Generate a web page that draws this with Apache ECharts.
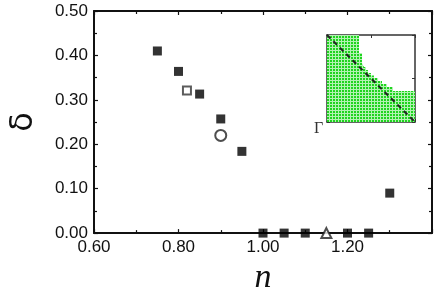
<!DOCTYPE html>
<html><head><meta charset="utf-8">
<script src="https://cdn.jsdelivr.net/npm/echarts@6/dist/echarts.min.js"></script>
<style>html,body{margin:0;padding:0;background:#fff}#c{width:435px;height:300px}</style>
</head><body><div id="c"></div>
<script>
// Main plot data
const filledX = [0.75, 0.80, 0.85, 0.90, 0.95, 1.00, 1.05, 1.10, 1.20, 1.25, 1.30];
const filledY = [0.410, 0.364, 0.313, 0.257, 0.184, 0.0, 0.0, 0.0, 0.0, 0.0, 0.090];
const openSquare = [[0.82, 0.321]];
const openCircle = [[0.90, 0.220]];
const openTriangle = [[1.15, 0.0]];
const xTicks = [0.6, 0.8, 1.0, 1.2];
const yTicks = [0.0, 0.1, 0.2, 0.3, 0.4, 0.5];
// Inset: staircase boundary of the green region (unit square) and diagonal
const insetU = [0, 0.364, 0.398, 0.42, 0.443, 0.466, 0.5, 0.534, 0.58, 0.625, 0.682, 0.75, 1];
const insetV = [1, 0.793, 0.678, 0.632, 0.598, 0.563, 0.534, 0.506, 0.471, 0.437, 0.402, 0.356, 0.356];
const diagU = [0, 1];
const diagV = [1, 0];

const chart = echarts.init(document.getElementById('c'), null, {renderer: 'canvas'});

// green checkered pattern
const pc = document.createElement('canvas');
pc.width = 3; pc.height = 3;
const g = pc.getContext('2d');
g.fillStyle = '#1fd41f'; g.fillRect(0, 0, 3, 3);
g.fillStyle = '#b2f2b2'; g.fillRect(2, 0, 1, 3); g.fillRect(0, 2, 3, 1);

const axisColor = '#111';
const labelFont = {fontFamily: 'Liberation Sans, Arial, sans-serif', fontSize: 17, color: '#111'};
function mainAxis(extra) {
  return Object.assign({
    type: 'value',
    axisLine: {show: true, onZero: false, lineStyle: {color: axisColor, width: 2}},
    axisTick: {show: true, inside: true, length: 4, lineStyle: {color: axisColor, width: 1.2}},
    minorTick: {show: true, splitNumber: 2, length: 3, lineStyle: {color: axisColor, width: 1.2}},
    splitLine: {show: false}
  }, extra);
}
function insetAxis(extra) {
  return Object.assign({
    type: 'value', gridIndex: 1, min: 0, max: 1, interval: 0.5,
    axisLine: {show: true, onZero: false, lineStyle: {color: '#333', width: 1.5}},
    axisTick: {show: true, inside: true, length: 3, lineStyle: {color: '#333'}},
    axisLabel: {show: false}, splitLine: {show: false}
  }, extra);
}

const option = {
  animation: false,
  backgroundColor: '#fff',
  grid: [
    {left: 89, right: 1, top: 11, bottom: 62},
    {left: 327, top: 35, width: 88, height: 87}
  ],
  xAxis: [
    mainAxis({gridIndex: 0, min: 0.6, max: 1.4, interval: 0.2, position: 'bottom',
      axisLabel: Object.assign({margin: 6, formatter: v => (xTicks.some(t => Math.abs(t - v) < 1e-6) ? v.toFixed(2) : '')}, labelFont),
      name: 'n', nameLocation: 'middle', nameGap: 27,
      nameTextStyle: {fontFamily: 'Liberation Serif, Times New Roman, serif', fontStyle: 'italic', fontSize: 34, color: '#111'}}),
    mainAxis({gridIndex: 0, min: 0.6, max: 1.4, interval: 0.2, position: 'top', axisLabel: {show: false}}),
    insetAxis({position: 'bottom'}),
    insetAxis({position: 'top'})
  ],
  yAxis: [
    mainAxis({gridIndex: 0, min: 0, max: 0.5, interval: 0.1, position: 'left',
      axisLabel: Object.assign({margin: 6, formatter: v => (yTicks.some(t => Math.abs(t - v) < 1e-6) ? v.toFixed(2) : '')}, labelFont),
      name: 'δ', nameLocation: 'middle', nameGap: 54, nameRotate: 90,
      nameTextStyle: {fontFamily: 'DejaVu Sans, sans-serif', fontSize: 32, color: '#111'}}),
    mainAxis({gridIndex: 0, min: 0, max: 0.5, interval: 0.1, position: 'right', axisLabel: {show: false}}),
    insetAxis({position: 'left'}),
    insetAxis({position: 'right'})
  ],
  series: [
    {type: 'line', xAxisIndex: 2, yAxisIndex: 2, step: 'end', symbol: 'none',
      data: insetU.map((u, i) => [u, insetV[i]]),
      lineStyle: {width: 0}, areaStyle: {color: {image: pc, repeat: 'repeat'}, opacity: 1, origin: 'start'}, z: 3},
    {type: 'line', xAxisIndex: 2, yAxisIndex: 2, symbol: 'none',
      data: diagU.map((u, i) => [u, diagV[i]]),
      lineStyle: {color: '#222', width: 2, type: [5, 4]}, z: 4},
    {type: 'scatter', xAxisIndex: 0, yAxisIndex: 0, symbol: 'rect', symbolSize: 9, clip: false,
      data: filledX.map((x, i) => [x, filledY[i]]), itemStyle: {color: '#000'}, z: 5},
    {type: 'scatter', xAxisIndex: 0, yAxisIndex: 0, symbol: 'rect', symbolSize: 8, clip: false,
      data: openSquare, itemStyle: {color: '#fff', borderColor: '#333', borderWidth: 2}, z: 5},
    {type: 'scatter', xAxisIndex: 0, yAxisIndex: 0, symbol: 'circle', symbolSize: 11, clip: false,
      data: openCircle, itemStyle: {color: '#fff', borderColor: '#222', borderWidth: 2}, z: 5},
    {type: 'scatter', xAxisIndex: 0, yAxisIndex: 0, symbol: 'triangle', symbolSize: 10, clip: false,
      data: openTriangle, itemStyle: {color: '#fff', borderColor: '#222', borderWidth: 2}, z: 5}
  ],
  graphic: [
    {type: 'text', left: 314, top: 121, style: {text: 'Γ', font: '16px "Liberation Serif", serif', fill: '#333'}}
  ]
};
chart.setOption(option);
</script></body></html>
